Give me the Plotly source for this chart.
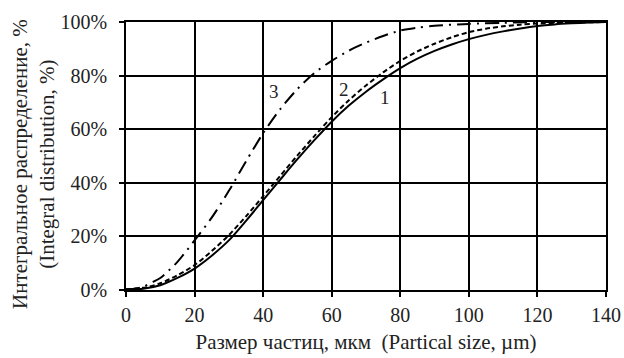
import plotly.graph_objects as go

x1 = [0, 5, 10, 15, 20, 25, 30, 35, 40, 45, 50, 55, 60, 65, 70, 75, 80, 85, 90, 95, 100, 105, 110, 115, 120, 125, 130, 135, 140]
y1 = [0.3, 0.5, 1.8, 4.5, 8, 12.8, 18.5, 25.8, 33.5, 41.2, 48.8, 56, 62.8, 68.8, 74, 78.6, 82.8, 86.3, 89.2, 91.6, 93.6, 95.2, 96.5, 97.6, 98.5, 99.1, 99.5, 99.8, 100]

x2 = [0, 5, 10, 15, 20, 25, 30, 35, 40, 45, 50, 55, 60, 65, 70, 75, 80, 85, 90, 95, 100, 105, 110, 115, 120, 130, 140]
y2 = [0.3, 0.8, 2.5, 5.5, 9.3, 14.5, 20.5, 27.5, 35, 42.6, 50.2, 57.5, 64.5, 70.8, 76.3, 81.2, 85.5, 89, 91.9, 94.3, 96.2, 97.5, 98.4, 99, 99.4, 99.8, 100]

x3 = [0, 5, 8, 10, 15, 20, 25, 30, 35, 40, 45, 50, 55, 60, 65, 70, 75, 80, 85, 90, 100, 110, 120, 140]
y3 = [0, 1.2, 3.1, 4.5, 10.5, 18.5, 27, 37, 48, 58.5, 67.5, 75, 81, 85.5, 89.3, 92.3, 94.8, 96.8, 97.9, 98.6, 99.3, 99.7, 100, 100]

x_ticks = [0, 20, 40, 60, 80, 100, 120, 140]
y_ticks = [0, 20, 40, 60, 80, 100]
y_tick_text = ["0%", "20%", "40%", "60%", "80%", "100%"]

curve_labels = ["1", "2", "3"]
label_x = [75.5, 63.5, 43.3]
label_y = [72, 75, 74]

FONT = "Liberation Serif"
TXT = "#222222"

fig = go.Figure()
fig.add_trace(go.Scatter(x=x1, y=y1, mode="lines", line=dict(color="black", width=2, shape="spline", smoothing=0.8), showlegend=False))
fig.add_trace(go.Scatter(x=x2, y=y2, mode="lines", line=dict(color="black", width=2, dash="5px,3px", shape="spline", smoothing=0.8), showlegend=False))
fig.add_trace(go.Scatter(x=x3, y=y3, mode="lines", line=dict(color="black", width=2, dash="14px,6px,2px,6px", shape="spline", smoothing=0.8), showlegend=False))

for t, xx, yy in zip(curve_labels, label_x, label_y):
    fig.add_annotation(x=xx, y=yy, text=t, showarrow=False, font=dict(family=FONT, size=19, color=TXT))

fig.add_annotation(xref="paper", yref="paper", x=-0.194, y=0.47,
                   text="Интегральное распределение, %<br>(Integral distribution, %)",
                   textangle=-90, showarrow=False, font=dict(family=FONT, size=21, color=TXT),
                   xanchor="center", yanchor="middle")

fig.update_layout(
    width=624, height=358,
    margin=dict(l=126, r=18, t=22, b=68),
    paper_bgcolor="white", plot_bgcolor="white",
    font=dict(family=FONT, size=20, color=TXT),
    xaxis=dict(range=[0, 140], tickmode="array", tickvals=x_ticks, ticktext=[str(v) for v in x_ticks],
               tickfont=dict(family=FONT, size=20, color=TXT), ticklabelstandoff=1, automargin=False,
               showgrid=True, gridcolor="black", gridwidth=1.5,
               showline=True, linecolor="black", linewidth=1.5, mirror=True, zeroline=False,
               ticks="outside", ticklen=5, tickcolor="black", tickwidth=1.5,
               title=dict(text="Размер частиц, мкм  (Partical size, µm)", font=dict(family=FONT, size=21, color=TXT), standoff=10)),
    yaxis=dict(range=[0, 100], tickmode="array", tickvals=y_ticks, ticktext=y_tick_text,
               tickfont=dict(family=FONT, size=20, color=TXT), ticklabelstandoff=8, automargin=False,
               showgrid=True, gridcolor="black", gridwidth=1.5,
               showline=True, linecolor="black", linewidth=1.5, mirror=True, zeroline=False,
               ticks="outside", ticklen=5, tickcolor="black", tickwidth=1.5),
)

fig.write_html("out.html")
